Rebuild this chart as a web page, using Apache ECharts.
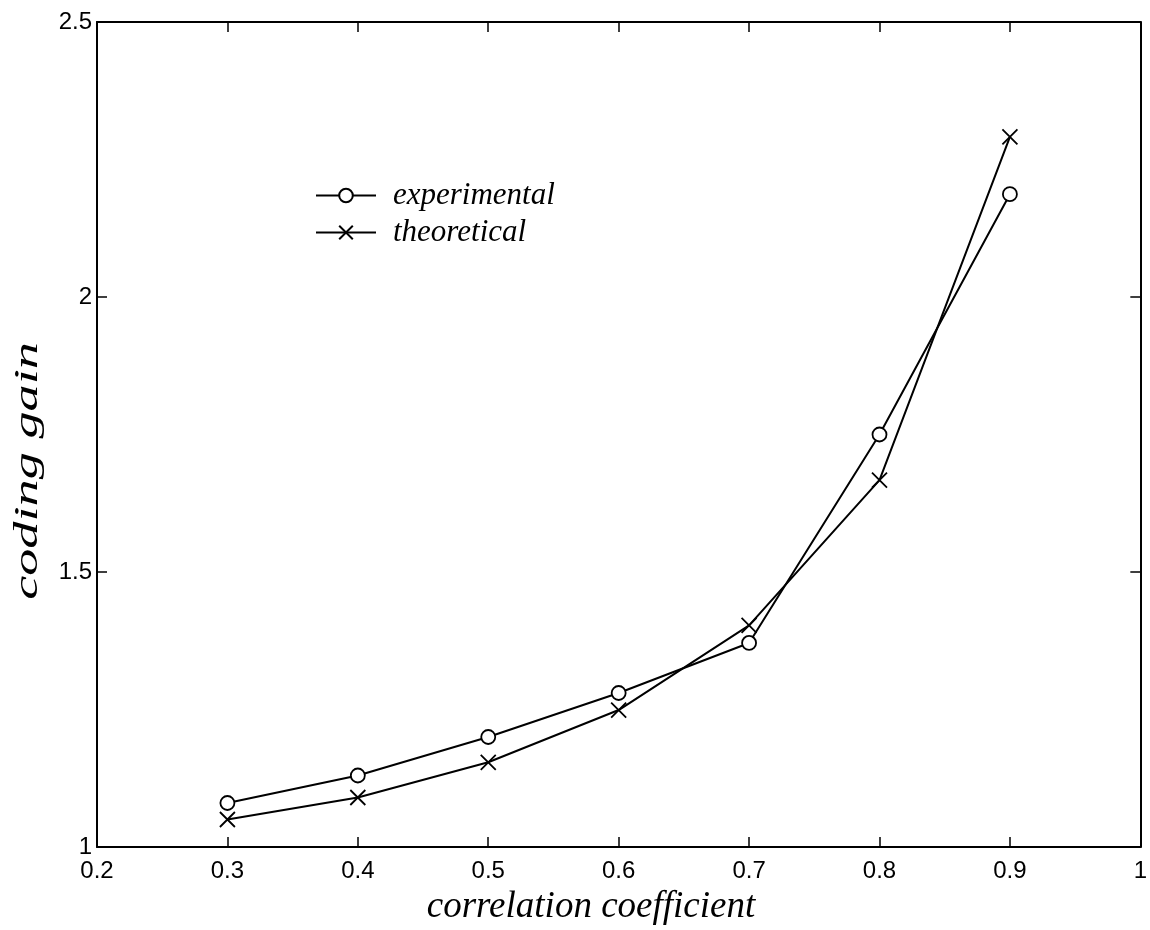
<!DOCTYPE html>
<html>
<head>
<meta charset="utf-8">
<script src="https://cdn.jsdelivr.net/npm/echarts@6/dist/echarts.min.js"></script>
<style>html,body{margin:0;padding:0;background:#fff}#c{width:1150px;height:930px}</style>
</head>
<body>
<div id="c"></div>
<script>
const xValues = [0.3, 0.4, 0.5, 0.6, 0.7, 0.8, 0.9];
const experimental = [1.08, 1.13, 1.20, 1.28, 1.371, 1.75, 2.187];
const theoretical = [1.05, 1.09, 1.154, 1.249, 1.403, 1.667, 2.291];
const xTitle = 'correlation coefficient';
const yTitle = 'coding gain';

const chart = echarts.init(document.getElementById('c'));
const crossPath = 'path://M0,0L10,10M10,0L0,10';
const tickStyle = {show: true, inside: true, length: 10, lineStyle: {color: '#000', width: 1.5}};
const lineAx = {show: true, lineStyle: {color: '#000', width: 2}};
const labelFont = {color: '#000', fontFamily: 'Liberation Sans', fontSize: 24};
chart.setOption({
  animation: false,
  backgroundColor: '#fff',
  grid: {left: 97, top: 22, right: 3, bottom: 83},
  legend: {
    left: 310, top: 175, orient: 'vertical', itemWidth: 60, itemHeight: 17, itemGap: 6,
    textStyle: {fontFamily: 'Liberation Serif', fontStyle: 'italic', fontSize: 31, color: '#000', lineHeight: 30, padding: [0, 0, 0, 12]},
    data: ['experimental', 'theoretical']
  },
  xAxis: [
    {type: 'value', min: 0.2, max: 1, interval: 0.1, position: 'bottom',
     axisLine: lineAx, axisTick: tickStyle, splitLine: {show: false},
     axisLabel: Object.assign({margin: 12, formatter: v => String(Math.round(v * 10) / 10)}, labelFont)},
    {type: 'value', min: 0.2, max: 1, interval: 0.1, position: 'top',
     axisLine: lineAx, axisTick: tickStyle, splitLine: {show: false}, axisLabel: {show: false}}
  ],
  yAxis: [
    {type: 'value', min: 1, max: 2.5, interval: 0.5, position: 'left',
     axisLine: lineAx, axisTick: tickStyle, splitLine: {show: false},
     axisLabel: Object.assign({margin: 5}, labelFont)},
    {type: 'value', min: 1, max: 2.5, interval: 0.5, position: 'right',
     axisLine: lineAx, axisTick: tickStyle, splitLine: {show: false}, axisLabel: {show: false}}
  ],
  series: [
    {name: 'experimental', type: 'line', data: xValues.map((x, i) => [x, experimental[i]]),
     symbol: 'circle', symbolSize: 14,
     lineStyle: {color: '#000', width: 2},
     itemStyle: {color: '#fff', borderColor: '#000', borderWidth: 1.8}},
    {name: 'theoretical', type: 'line', data: xValues.map((x, i) => [x, theoretical[i]]),
     symbol: crossPath, symbolSize: 15,
     lineStyle: {color: '#000', width: 2},
     itemStyle: {color: 'none', borderColor: '#000', borderWidth: 1.8}}
  ],
  graphic: [
    {type: 'text', x: 591, y: 907,
     style: {text: xTitle, fontFamily: 'Liberation Serif', fontStyle: 'italic', fontSize: 37, fill: '#000', textAlign: 'center', textVerticalAlign: 'middle'}},
    {type: 'text', x: 28, y: 471, rotation: Math.PI / 2, scaleX: 1.75, scaleY: 1.1,
     style: {text: yTitle, fontFamily: 'Liberation Serif', fontStyle: 'italic', fontSize: 31, fill: '#000', textAlign: 'center', textVerticalAlign: 'middle'}}
  ]
});
</script>
</body>
</html>
